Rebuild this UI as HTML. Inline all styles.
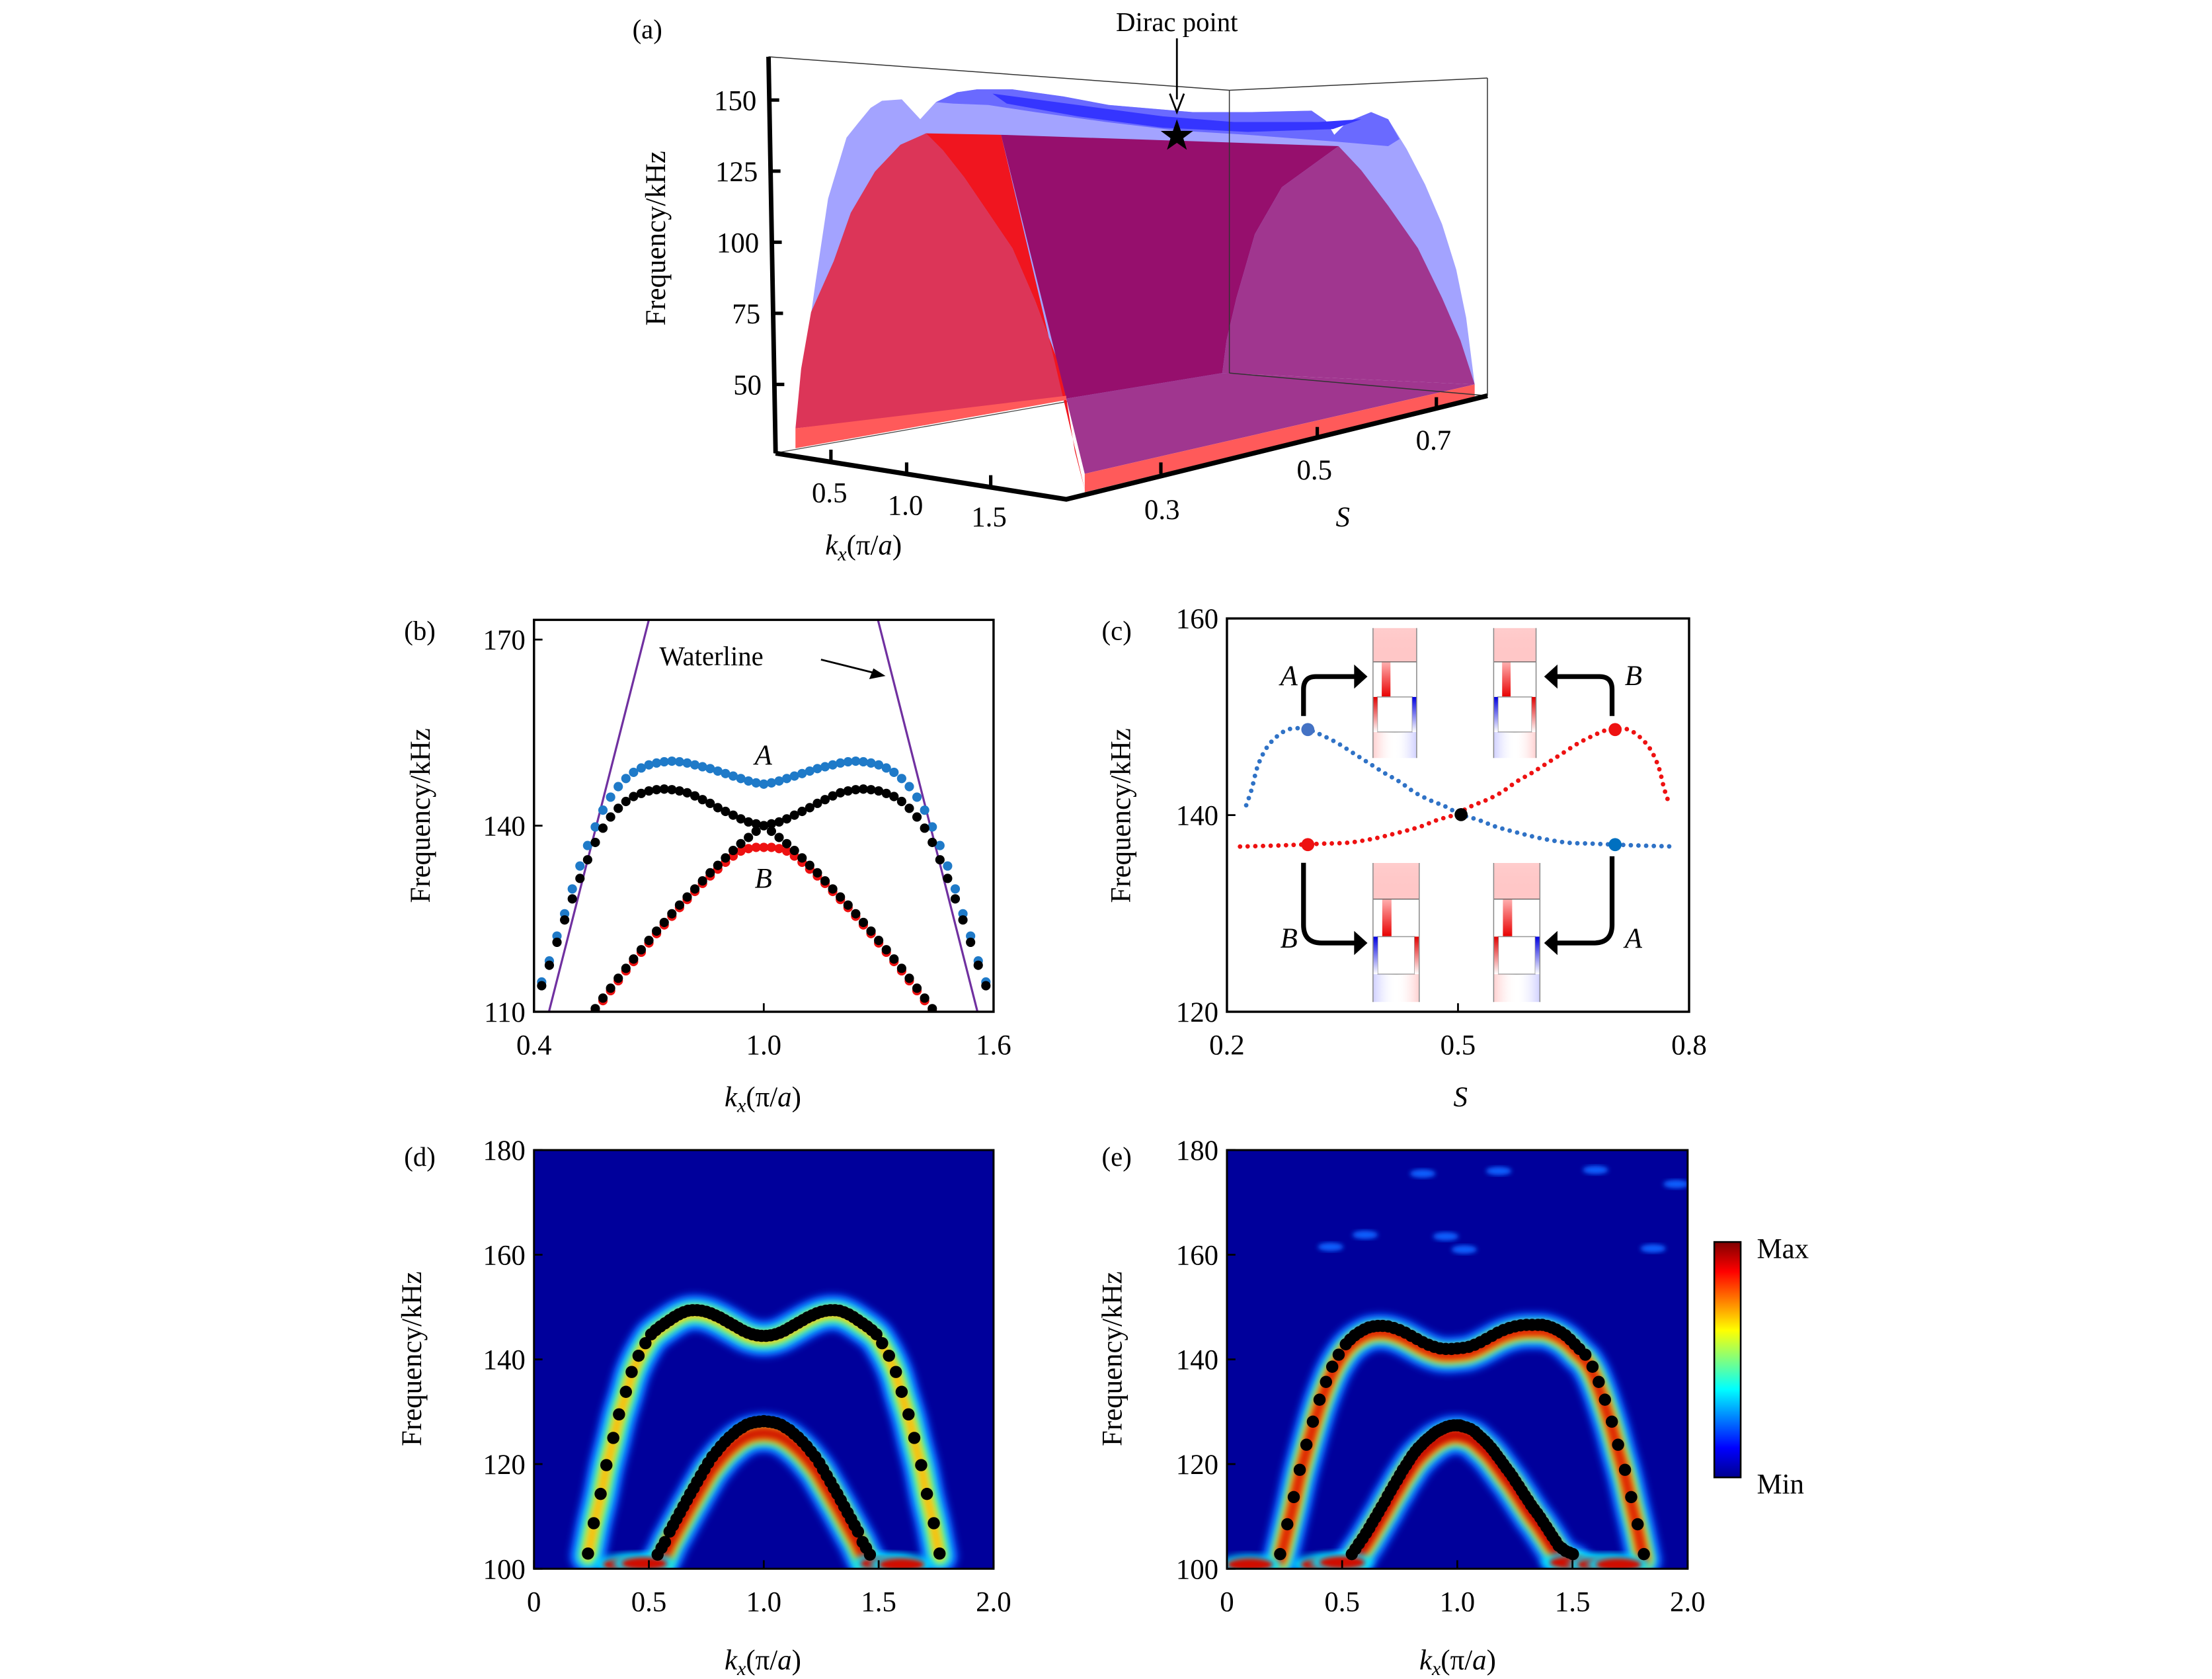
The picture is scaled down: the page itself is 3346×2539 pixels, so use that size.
<!DOCTYPE html>
<html><head><meta charset="utf-8">
<style>
html,body{margin:0;padding:0;background:#fff;}
svg{display:block;}
text{font-family:"Liberation Serif",serif;fill:#000;}
</style></head>
<body>
<svg id="fig" width="3346" height="2539" viewBox="0 0 1560 1183.7" xmlns="http://www.w3.org/2000/svg">
<defs>
  <filter id="blur3" x="-20%" y="-20%" width="140%" height="140%"><feGaussianBlur stdDeviation="2.6"/></filter>
  <filter id="blur2" x="-20%" y="-20%" width="140%" height="140%"><feGaussianBlur stdDeviation="1.6"/></filter>
  <clipPath id="clipD"><rect x="376.6" y="810.8" width="324.1" height="295.2"/></clipPath>
  <clipPath id="clipE"><rect x="865.3" y="810.8" width="324.9" height="295.2"/></clipPath>
  <clipPath id="clipB"><rect x="376.6" y="437" width="324.1" height="276.3"/></clipPath>
  <linearGradient id="jet" x1="0" y1="1" x2="0" y2="0">
    <stop offset="0" stop-color="#00008f"/><stop offset="0.125" stop-color="#0000ff"/>
    <stop offset="0.375" stop-color="#00ffff"/><stop offset="0.625" stop-color="#ffff00"/>
    <stop offset="0.875" stop-color="#ff0000"/><stop offset="1" stop-color="#800000"/>
  </linearGradient>
  <linearGradient id="topRed" x1="0" y1="0" x2="0" y2="1">
    <stop offset="0" stop-color="#ff9a9a" stop-opacity="0.5"/><stop offset="1" stop-color="#ff6060" stop-opacity="0.35"/>
  </linearGradient>
  <linearGradient id="stemRed" x1="0" y1="0" x2="0" y2="1">
    <stop offset="0" stop-color="#ffb0b0"/><stop offset="1" stop-color="#e80000"/>
  </linearGradient>
  <linearGradient id="edgeRed" x1="0" y1="0" x2="0" y2="1">
    <stop offset="0" stop-color="#e00000"/><stop offset="1" stop-color="#ffffff"/>
  </linearGradient>
  <linearGradient id="edgeBlue" x1="0" y1="0" x2="0" y2="1">
    <stop offset="0" stop-color="#0000e0"/><stop offset="1" stop-color="#ffffff"/>
  </linearGradient>
  <linearGradient id="botRB" x1="0" y1="0" x2="1" y2="0">
    <stop offset="0" stop-color="#ffb0b0" stop-opacity="0.6"/><stop offset="0.5" stop-color="#ffffff" stop-opacity="0"/><stop offset="1" stop-color="#b0b0ff" stop-opacity="0.6"/>
  </linearGradient>
  <linearGradient id="botBR" x1="0" y1="0" x2="1" y2="0">
    <stop offset="0" stop-color="#b0b0ff" stop-opacity="0.6"/><stop offset="0.5" stop-color="#ffffff" stop-opacity="0"/><stop offset="1" stop-color="#ffb0b0" stop-opacity="0.6"/>
  </linearGradient>
</defs>

<!-- ================= Panel (a) ================= -->
<g id="panelA">
  <text x="446" y="27" font-size="19">(a)</text>
  <line x1="546" y1="319.5" x2="867" y2="263" stroke="#444" stroke-width="0.6"/>
  <polygon fill="#a3a3ff" points="563,300 568,250 575,200 584,140 597,97 605,87 614,76 622,71 636,70 649,84 660,72 675,65 689,63 714,63 750,68 782,74 841,79 883,79 925,78 935,85 941,95 950,86 967,79 979,84 992,105 1005,130 1017,158 1027,190 1034,224 1040,271 867,263 752,281"/>
  <polygon fill="#6a6aff" points="660,72 675,65 689,63 714,63 750,68 782,74 841,79 883,79 925,78 935,85 941,95 950,86 967,79 979,84 987,98 979,103 944,100 880,95 830,92 780,86 730,79 697,74 672,73"/>
  <polygon fill="#3535ff" points="700,66 760,74 820,82 870,86 930,86 960,84 940,91 880,93 820,90 760,82 710,73"/>
  <polygon fill="#dc3558" points="561,302 565,260 572,220 588,184 600,150 617,121 635,102 653,94 665,106 680,125 697,150 714,175 730,212 745,252 752,281"/>
  <polygon fill="#f0151f" points="653,94 706,95 765,345 758,318 752,281 745,252 730,212 714,175 697,150 680,125 665,106"/>
  <polygon fill="#960f6d" points="706,95 944,103 904,132 885,165 872,210 865,240 862,263 752,281"/>
  <polygon fill="#a0368f" points="752,281 862,263 1040,271 765,334"/>
  <polygon fill="#a0368f" points="944,103 960,120 979,145 1000,175 1017,210 1030,240 1040,271 862,263 865,240 872,210 885,165 904,132"/>
  <polygon fill="#ff5a5a" points="561,302 752,279 752,282 561,316"/>
  <polygon fill="#ff5a5a" points="765,334 1040,271 1040,280 765,347"/>
  <g stroke="#333" stroke-width="0.7" fill="none">
    <polyline points="542,40 867,63.6 1049,55"/>
    <line x1="867" y1="63.6" x2="867" y2="263"/>
    <line x1="1049" y1="55" x2="1049" y2="279"/>
    <line x1="867" y1="263" x2="1049" y2="279"/>
  </g>
  <polyline points="542,40 547,319.5" stroke="#000" stroke-width="3.2" fill="none"/>
  <polyline points="547,319.5 752,352 1049,279" stroke="#000" stroke-width="3.4" fill="none" stroke-linejoin="miter"/>
  <g id="aTicks"></g>
  <text x="830" y="22" font-size="19" text-anchor="middle">Dirac point</text>
  <line x1="830" y1="27" x2="830" y2="70" stroke="#000" stroke-width="1.3"/>
  <polyline points="825,66 830,79 835,66" fill="none" stroke="#000" stroke-width="1.3"/>
  <polygon fill="#000" points="830,84 832.8,92.2 841.4,92.3 834.5,97.4 837,105.6 830,100.7 823,105.6 825.5,97.4 818.6,92.3 827.2,92.2"/>
  <text transform="translate(469,168) rotate(-90)" font-size="20" text-anchor="middle">Frequency/kHz</text>
  <text x="609" y="391" font-size="20" text-anchor="middle"><tspan font-style="italic">k</tspan><tspan font-style="italic" font-size="14" dy="4">x</tspan><tspan dy="-4">(π/</tspan><tspan font-style="italic">a</tspan>)</text>
  <text x="947" y="371" font-size="20" font-style="italic" text-anchor="middle">S</text>
</g>

<!-- ================= Panel (b) ================= -->
<g id="panelB">
  <text x="285" y="451" font-size="19">(b)</text>
  <g id="bMarks" clip-path="url(#clipB)"></g>
  <rect x="376.6" y="437" width="324.1" height="276.3" fill="none" stroke="#000" stroke-width="1.6"/>
  <g id="bAxes"></g>
  <text x="465" y="469" font-size="19">Waterline</text>
  <line x1="579" y1="465" x2="619" y2="475" stroke="#000" stroke-width="1.3"/>
  <polygon points="624.5,476.5 613,478.8 616,471.2" fill="#000"/>
  <text x="538.4" y="539" font-size="20" font-style="italic" text-anchor="middle">A</text>
  <text x="538.4" y="626" font-size="20" font-style="italic" text-anchor="middle">B</text>
  <text transform="translate(303,575) rotate(-90)" font-size="20" text-anchor="middle">Frequency/kHz</text>
  <text x="538" y="780" font-size="20" text-anchor="middle"><tspan font-style="italic">k</tspan><tspan font-style="italic" font-size="14" dy="4">x</tspan><tspan dy="-4">(π/</tspan><tspan font-style="italic">a</tspan>)</text>
</g>

<!-- ================= Panel (c) ================= -->
<g id="panelC">
  <text x="777" y="451" font-size="19">(c)</text>
  <g id="cInsets"></g>
  <g id="cMarks"></g>
  <rect x="865.3" y="436" width="325.9" height="277.3" fill="none" stroke="#000" stroke-width="1.6"/>
  <g id="cAxes"></g>
  <g fill="none" stroke="#000" stroke-width="3.4">
    <path d="M919.3,504.8 V486 Q919.3,477 928,477 H956"/>
    <path d="M1136.9,504.8 V486 Q1136.9,477 1128,477 H1098"/>
    <path d="M919.3,608.3 V652 Q919.3,664.8 932,664.8 H956"/>
    <path d="M1136.9,603.7 V652 Q1136.9,664.8 1124,664.8 H1098"/>
  </g>
  <g fill="#000">
    <polygon points="964.4,477 955,468.5 955,485.5"/>
    <polygon points="1089,477 1098.4,468.5 1098.4,485.5"/>
    <polygon points="964.4,664.8 955,656.3 955,673.3"/>
    <polygon points="1089,664.8 1098.4,656.3 1098.4,673.3"/>
  </g>
  <text x="909" y="483" font-size="20" font-style="italic" text-anchor="middle">A</text>
  <text x="1152" y="483" font-size="20" font-style="italic" text-anchor="middle">B</text>
  <text x="909" y="668" font-size="20" font-style="italic" text-anchor="middle">B</text>
  <text x="1152" y="668" font-size="20" font-style="italic" text-anchor="middle">A</text>
  <text transform="translate(797,575) rotate(-90)" font-size="20" text-anchor="middle">Frequency/kHz</text>
  <text x="1030" y="780" font-size="20" font-style="italic" text-anchor="middle">S</text>
</g>

<!-- ================= Panel (d) ================= -->
<g id="panelD">
  <text x="285" y="822" font-size="19">(d)</text>
  <rect x="376.6" y="810.8" width="324.1" height="295.2" fill="#00009b"/>
  <g id="dHeat" clip-path="url(#clipD)"></g>
  <g id="dMarks"></g>
  <rect x="376.6" y="810.8" width="324.1" height="295.2" fill="none" stroke="#000" stroke-width="1.4"/>
  <g id="dAxes"></g>
  <text transform="translate(297,958) rotate(-90)" font-size="20" text-anchor="middle">Frequency/kHz</text>
  <text x="538" y="1177" font-size="20" text-anchor="middle"><tspan font-style="italic">k</tspan><tspan font-style="italic" font-size="14" dy="4">x</tspan><tspan dy="-4">(π/</tspan><tspan font-style="italic">a</tspan>)</text>
</g>

<!-- ================= Panel (e) ================= -->
<g id="panelE">
  <text x="777" y="822" font-size="19">(e)</text>
  <rect x="865.3" y="810.8" width="324.9" height="295.2" fill="#00009b"/>
  <g id="eHeat" clip-path="url(#clipE)"></g>
  <g id="eMarks"></g>
  <rect x="865.3" y="810.8" width="324.9" height="295.2" fill="none" stroke="#000" stroke-width="1.4"/>
  <g id="eAxes"></g>
  <text transform="translate(791,958) rotate(-90)" font-size="20" text-anchor="middle">Frequency/kHz</text>
  <text x="1028" y="1177" font-size="20" text-anchor="middle"><tspan font-style="italic">k</tspan><tspan font-style="italic" font-size="14" dy="4">x</tspan><tspan dy="-4">(π/</tspan><tspan font-style="italic">a</tspan>)</text>
  <rect x="1209" y="875.6" width="18.6" height="166" fill="url(#jet)" stroke="#000" stroke-width="1.2"/>
  <text x="1239" y="887" font-size="20">Max</text>
  <text x="1239" y="1053" font-size="20">Min</text>
</g>
</svg>

<script>
// ---------- Panel (a) tick data ----------
const aFreqTicks = [150, 125, 100, 75, 50];
const aKxTicks = ["0.5", "1.0", "1.5"];
const aSTicks = ["0.3", "0.5", "0.7"];

// ---------- Panel (b) data ----------
const bKx = [0.42,0.44,0.46,0.48,0.50,0.52,0.54,0.56,0.58,0.60,0.62,0.64,0.66,0.68,0.70,0.72,0.74,0.76,0.78,0.80,0.82,0.84,0.86,0.88,0.90,0.92,0.94,0.96,0.98,1.00,1.02,1.04,1.06,1.08,1.10,1.12,1.14,1.16,1.18,1.20,1.22,1.24,1.26,1.28,1.30,1.32,1.34,1.36,1.38,1.40,1.42,1.44,1.46,1.48,1.50,1.52,1.54,1.56,1.58];
const bBandA = [114.8,118.2,122.2,125.8,129.8,133.5,136.8,139.8,142.5,144.6,146.3,147.6,148.6,149.3,149.8,150.1,150.3,150.4,150.3,150.1,149.8,149.5,149.2,148.8,148.4,148.0,147.6,147.2,146.9,146.7,146.9,147.2,147.6,148.0,148.4,148.8,149.2,149.5,149.8,150.1,150.3,150.4,150.3,150.1,149.8,149.3,148.6,147.6,146.3,144.6,142.5,139.8,136.8,133.5,129.8,125.8,122.2,118.2,114.8];
const bBlackUpper = [114.2,117.5,121.2,124.8,128.2,131.5,134.5,137.3,139.6,141.4,142.8,143.9,144.7,145.2,145.6,145.8,145.9,145.8,145.6,145.3,144.8,144.2,143.6,142.9,142.3,141.7,141.1,140.6,140.3,140.0,140.3,140.6,141.1,141.7,142.3,142.9,143.6,144.2,144.8,145.3,145.6,145.8,145.9,145.8,145.6,145.2,144.7,143.9,142.8,141.4,139.6,137.3,134.5,131.5,128.2,124.8,121.2,117.5,114.2];
const bKxLow = [0.56,0.58,0.60,0.62,0.64,0.66,0.68,0.70,0.72,0.74,0.76,0.78,0.80,0.82,0.84,0.86,0.88,0.90,0.92,0.94,0.96,0.98,1.00,1.02,1.04,1.06,1.08,1.10,1.12,1.14,1.16,1.18,1.20,1.22,1.24,1.26,1.28,1.30,1.32,1.34,1.36,1.38,1.40,1.42,1.44];
const bBlackLower = [110.5,112.2,113.8,115.4,117.0,118.5,120.0,121.5,123.0,124.4,125.8,127.2,128.5,129.8,131.1,132.4,133.6,134.8,136.0,137.1,138.1,139.1,140.0,139.1,138.1,137.1,136.0,134.8,133.6,132.4,131.1,129.8,128.5,127.2,125.8,124.4,123.0,121.5,120.0,118.5,117.0,115.4,113.8,112.2,110.5];
const bBandB = [110.1,111.8,113.4,115.0,116.6,118.1,119.6,121.1,122.6,124.0,125.4,126.8,128.1,129.4,130.7,131.9,133.0,134.1,135.1,135.9,136.3,136.5,136.5,136.5,136.3,135.9,135.1,134.1,133.0,131.9,130.7,129.4,128.1,126.8,125.4,124.0,122.6,121.1,119.6,118.1,116.6,115.0,113.4,111.8,110.1];
const bWaterLeftKx = [0.439, 0.700];
const bWaterRightKx = [1.558, 1.298];
const bWaterF = [110, 173.2];
const bYTicks = [110, 140, 170];
const bXTicks = [0.4, 1.0, 1.6];

// ---------- Panel (c) data ----------
const cSBlue = [0.225,0.232,0.240,0.252,0.268,0.284,0.305,0.324,0.344,0.364,0.384,0.404,0.424,0.444,0.464,0.483,0.504,0.527,0.550,0.578,0.610,0.642,0.674,0.704,0.737,0.783];
const cFBlue = [141.0,142.6,145.0,146.9,148.2,148.8,148.7,148.1,147.3,146.3,145.3,144.3,143.4,142.3,141.5,140.9,140.05,139.5,138.8,138.2,137.6,137.2,137.1,137.0,136.9,136.8];
const cSRed = [0.217,0.263,0.296,0.326,0.358,0.390,0.422,0.450,0.473,0.496,0.517,0.536,0.556,0.576,0.596,0.616,0.636,0.656,0.676,0.695,0.716,0.732,0.748,0.760,0.768,0.775];
const cFRed = [136.8,136.9,137.0,137.1,137.2,137.6,138.2,138.8,139.5,140.05,140.9,141.5,142.3,143.4,144.3,145.3,146.3,147.3,148.1,148.7,148.8,148.2,146.9,145.0,142.6,141.0];
const cKeyS = [0.305, 0.305, 0.704, 0.704, 0.504];
const cKeyF = [148.7, 137.0, 148.7, 137.0, 140.05];
const cKeyMode = ["A-left", "B-left", "B-right", "A-right", "dirac"];
const cYTicks = [120, 140, 160];
const cXTicks = [0.2, 0.5, 0.8];

// ---------- Panel (d) data ----------
const dKxUpper = [0.235,0.26,0.29,0.315,0.345,0.37,0.40,0.425,0.455,0.485,0.51,0.53,0.55,0.57,0.59,0.61,0.63,0.65,0.67,0.69,0.71,0.73,0.75,0.77,0.79,0.81,0.83,0.85,0.87,0.89,0.91,0.93,0.95,0.97,0.99,1.01,1.03,1.05,1.07,1.09,1.11,1.13,1.15,1.17,1.19,1.21,1.23,1.25,1.27,1.29,1.31,1.33,1.35,1.37,1.39,1.41,1.43,1.45,1.47,1.49,1.515,1.545,1.575,1.60,1.63,1.655,1.685,1.71,1.74,1.765];
const dFUpper = [102.9,108.7,114.3,119.8,125.0,129.5,133.8,137.6,140.7,143.1,144.8,145.6,146.3,146.9,147.5,148.1,148.6,149.0,149.3,149.4,149.4,149.3,149.1,148.8,148.4,148.0,147.5,147.0,146.5,146.0,145.5,145.1,144.8,144.6,144.5,144.5,144.6,144.8,145.1,145.5,146.0,146.5,147.0,147.5,148.0,148.4,148.8,149.1,149.3,149.4,149.4,149.3,149.0,148.6,148.1,147.5,146.9,146.3,145.6,144.8,143.1,140.7,137.6,133.8,129.5,125.0,119.8,114.3,108.7,102.9];
const dKxLower = [0.538,0.555,0.57,0.59,0.605,0.62,0.635,0.65,0.665,0.68,0.695,0.71,0.726,0.742,0.758,0.776,0.795,0.813,0.832,0.85,0.869,0.887,0.906,0.924,0.943,0.961,0.98,1.00,1.02,1.039,1.057,1.076,1.094,1.113,1.131,1.15,1.168,1.187,1.205,1.224,1.242,1.258,1.274,1.29,1.305,1.32,1.335,1.35,1.365,1.38,1.395,1.41,1.43,1.445,1.462];
const dFLower = [102.7,104.0,105.1,107.1,108.3,109.5,110.7,111.9,113.1,114.3,115.4,116.6,117.8,119.0,120.2,121.4,122.4,123.4,124.3,125.1,125.8,126.5,127.0,127.5,127.8,128.0,128.1,128.2,128.1,128.0,127.8,127.5,127.0,126.5,125.8,125.1,124.3,123.4,122.4,121.4,120.2,119.0,117.8,116.6,115.4,114.3,113.1,111.9,110.7,109.5,108.3,107.1,105.1,104.0,102.7];
const dHotKx = [0.40, 0.48, 1.52, 1.60];
const dHotF = [100.8, 101.0, 101.0, 100.8];
const dXTicks = ["0", "0.5", "1.0", "1.5", "2.0"];
const dXTickVals = [0, 0.5, 1.0, 1.5, 2.0];
const dYTicks = [100, 120, 140, 160, 180];

// ---------- Panel (e) data ----------
const eKxUpper = [0.231,0.262,0.29,0.316,0.345,0.373,0.402,0.43,0.457,0.485,0.516,0.535,0.555,0.575,0.595,0.615,0.635,0.655,0.676,0.70,0.725,0.75,0.775,0.80,0.825,0.85,0.875,0.90,0.925,0.95,0.975,1.0,1.025,1.05,1.075,1.10,1.125,1.15,1.175,1.20,1.225,1.25,1.275,1.30,1.325,1.35,1.369,1.39,1.41,1.43,1.45,1.47,1.49,1.51,1.53,1.556,1.587,1.614,1.641,1.671,1.698,1.728,1.755,1.783,1.81];
const eFUpper = [102.8,108.5,113.7,118.9,123.7,128.1,132.3,135.7,138.6,140.9,142.9,143.8,144.6,145.2,145.7,146.1,146.3,146.4,146.4,146.3,146.0,145.6,145.1,144.5,143.9,143.3,142.8,142.4,142.1,142.0,142.0,142.1,142.2,142.4,142.8,143.3,143.9,144.5,145.1,145.6,146.0,146.3,146.5,146.6,146.6,146.6,146.6,146.4,146.1,145.7,145.2,144.6,143.8,142.9,142.0,140.9,138.6,135.7,132.3,128.1,123.7,118.9,113.7,108.5,102.8];
const eKxLower = [0.542,0.558,0.573,0.589,0.604,0.618,0.631,0.645,0.658,0.671,0.685,0.698,0.711,0.724,0.738,0.751,0.764,0.778,0.791,0.804,0.818,0.831,0.845,0.858,0.871,0.885,0.898,0.911,0.924,0.938,0.953,0.969,0.985,1.0,1.011,1.022,1.04,1.058,1.076,1.09,1.105,1.12,1.133,1.147,1.16,1.173,1.187,1.20,1.213,1.227,1.24,1.253,1.267,1.28,1.293,1.307,1.32,1.333,1.347,1.36,1.373,1.387,1.40,1.413,1.427,1.44,1.455,1.47,1.486,1.502];
const eFLower = [102.8,103.8,104.8,105.8,106.8,107.8,108.8,109.8,110.8,111.8,112.8,113.9,114.9,115.9,116.9,117.9,118.9,119.8,120.7,121.6,122.4,123.1,123.7,124.3,124.8,125.3,125.8,126.2,126.5,126.8,127.1,127.3,127.4,127.4,127.4,127.2,127.0,126.7,126.2,125.6,125.0,124.4,123.8,123.1,122.4,121.6,120.8,120.0,119.2,118.4,117.6,116.7,115.8,114.9,114.0,113.1,112.2,111.4,110.6,109.8,108.9,108.0,107.1,106.2,105.3,104.4,103.9,103.4,103.1,102.8];
const eHotKx = [0.10, 0.42, 0.50, 1.50, 1.62, 1.70];
const eHotF = [100.8, 100.8, 101.2, 101.2, 100.8, 100.8];
const eNoiseKx = [0.45, 0.60, 0.95, 1.03, 1.18, 1.85, 1.95, 0.85, 1.60];
const eNoiseF = [161.5, 163.8, 163.5, 161.0, 176.0, 161.2, 173.5, 175.5, 176.2];

// ---------- helpers ----------
const NS = "http://www.w3.org/2000/svg";
function mk(tag, attrs, parent) {
  const el = document.createElementNS(NS, tag);
  for (const k in attrs) el.setAttribute(k, attrs[k]);
  parent.appendChild(el);
  return el;
}
function linScale(d0, d1, r0, r1) { return v => r0 + (v - d0) * (r1 - r0) / (d1 - d0); }
function smoothPath(pts) {
  if (pts.length < 2) return "";
  let d = "M" + pts[0][0].toFixed(2) + "," + pts[0][1].toFixed(2);
  for (let i = 0; i < pts.length - 1; i++) {
    const p0 = pts[Math.max(0, i - 1)], p1 = pts[i], p2 = pts[i + 1], p3 = pts[Math.min(pts.length - 1, i + 2)];
    const c1x = p1[0] + (p2[0] - p0[0]) / 6, c1y = p1[1] + (p2[1] - p0[1]) / 6;
    const c2x = p2[0] - (p3[0] - p1[0]) / 6, c2y = p2[1] - (p3[1] - p1[1]) / 6;
    d += " C" + c1x.toFixed(2) + "," + c1y.toFixed(2) + " " + c2x.toFixed(2) + "," + c2y.toFixed(2) + " " + p2[0].toFixed(2) + "," + p2[1].toFixed(2);
  }
  return d;
}
function axesLeftBottom(g, xs, ys, xTicks, xLabels, yTicks, box, prefix) {
  yTicks.forEach((t) => {
    const y = ys(t);
    const tk = mk("line", { x1: box.x0, y1: y, x2: box.x0 + 6, y2: y, stroke: "#000", "stroke-width": 1.3 }, g);
    
    
    const tx = mk("text", { x: box.x0 - 6, y: y + 7, "font-size": 20, "text-anchor": "end" }, g);
    tx.textContent = String(t);
    
    
  });
  xTicks.forEach((t, i) => {
    const x = xs(t);
    const tk = mk("line", { x1: x, y1: box.y1, x2: x, y2: box.y1 - 6, stroke: "#000", "stroke-width": 1.3 }, g);
    
    
    const tx = mk("text", { x: x, y: box.y1 + 30, "font-size": 20, "text-anchor": "middle" }, g);
    tx.textContent = xLabels[i];
    
    
  });
}

// ---------- Panel (a) ticks ----------
(function () {
  const g = document.getElementById("aTicks");
  const fy = linScale(50, 150, 271, 70.5);
  aFreqTicks.forEach(v => {
    const y = fy(v);
    const x = 542 + (y - 40) / 279.5 * 5;
    const tk = mk("line", { x1: x, y1: y, x2: x + 7, y2: y, stroke: "#000", "stroke-width": 2.4 }, g);
    
    
    const t = mk("text", { x: x - 9, y: y + 7, "font-size": 20, "text-anchor": "end" }, g);
    t.textContent = String(v);
    
    
  });
  const kxPos = [[586, 325, 585, 354], [639.4, 334, 638.5, 363], [698.7, 343, 697.5, 371]];
  aKxTicks.forEach((lab, i) => {
    const p = kxPos[i];
    const tk = mk("line", { x1: p[0], y1: p[1], x2: p[0], y2: p[1] - 8, stroke: "#000", "stroke-width": 2.4 }, g);
    
    
    const t = mk("text", { x: p[2], y: p[3], "font-size": 20, "text-anchor": "middle" }, g);
    t.textContent = lab;
    
    
  });
  const sPos = [[818.7, 334, 819.5, 366], [929, 309, 927, 338], [1013, 288, 1011, 317]];
  aSTicks.forEach((lab, i) => {
    const p = sPos[i];
    const tk = mk("line", { x1: p[0], y1: p[1], x2: p[0], y2: p[1] - 8, stroke: "#000", "stroke-width": 2.4 }, g);
    
    
    const t = mk("text", { x: p[2], y: p[3], "font-size": 20, "text-anchor": "middle" }, g);
    t.textContent = lab;
    
    
  });
})();

// ---------- Panel (b) ----------
(function () {
  const box = { x0: 376.6, x1: 700.7, y0: 437, y1: 713.3 };
  const xs = linScale(0.4, 1.6, box.x0, box.x1);
  const ys = linScale(110, 140, 713.3, 582.1);
  const g = document.getElementById("bMarks");
  [bWaterLeftKx, bWaterRightKx].forEach((arr, j) => {
    const l = mk("line", { x1: xs(arr[0]), y1: ys(bWaterF[0]), x2: xs(arr[1]), y2: ys(bWaterF[1]), stroke: "#7030a0", "stroke-width": 1.5 }, g);
    
    
  });
  bKx.forEach((k, i) => {
    const c = mk("circle", { cx: xs(k), cy: ys(bBandA[i]), r: 3.3, fill: "#1f7ac8" }, g);
    
    
  });
  bKxLow.forEach((k, i) => {
    const c = mk("circle", { cx: xs(k), cy: ys(bBandB[i]), r: 3.3, fill: "#ee1111" }, g);
    
    
  });
  bKx.forEach((k, i) => {
    const c = mk("circle", { cx: xs(k), cy: ys(bBlackUpper[i]), r: 3.3, fill: "#000" }, g);
    
    
  });
  bKxLow.forEach((k, i) => {
    const c = mk("circle", { cx: xs(k), cy: ys(bBlackLower[i]), r: 3.3, fill: "#000" }, g);
    
    
  });
  axesLeftBottom(document.getElementById("bAxes"), xs, ys, bXTicks, bXTicks.map(v => v.toFixed(1)), bYTicks, box, "b");
})();

// ---------- Panel (c) ----------
(function () {
  const box = { x0: 865.3, x1: 1191.2, y0: 436, y1: 713.3 };
  const xs = linScale(0.2, 0.8, box.x0, box.x1);
  const ys = linScale(120, 160, 713.3, 436);
  // insets (mode field illustrations)
  const gi = document.getElementById("cInsets");
  const insets = [[968.3, 442.8, 30.8, 91.6, "A-top", false], [1053.4, 442.8, 29.9, 91.6, "B-top", true], [968.3, 608.4, 32.6, 98, "B-bottom", true], [1053.4, 608.4, 32.6, 98, "A-bottom", false]];
  insets.forEach(p => {
    const [x, y, w, h, nm, flip] = p;
    const ig = mk("g", {}, gi);
    
    
    mk("rect", { x: x, y: y, width: w, height: h * 0.26, fill: "url(#topRed)" }, ig);
    mk("rect", { x: x + w * 0.2, y: y + h * 0.26, width: w * 0.2, height: h * 0.27, fill: "url(#stemRed)" }, ig);
    mk("rect", { x: x + w * 0.1, y: y + h * 0.53, width: w * 0.8, height: h * 0.27, fill: "#fff", stroke: "#999", "stroke-width": 0.7 }, ig);
    mk("rect", { x: x, y: y + h * 0.53, width: w * 0.1, height: h * 0.27, fill: flip ? "url(#edgeBlue)" : "url(#edgeRed)" }, ig);
    mk("rect", { x: x + w * 0.9, y: y + h * 0.53, width: w * 0.1, height: h * 0.27, fill: flip ? "url(#edgeRed)" : "url(#edgeBlue)" }, ig);
    mk("rect", { x: x, y: y + h * 0.8, width: w, height: h * 0.2, fill: flip ? "url(#botBR)" : "url(#botRB)" }, ig);
    mk("line", { x1: x, y1: y + h * 0.26, x2: x + w, y2: y + h * 0.26, stroke: "#555", "stroke-width": 0.6 }, ig);
    mk("line", { x1: x, y1: y, x2: x, y2: y + h, stroke: "#888", "stroke-width": 0.7 }, ig);
    mk("line", { x1: x + w, y1: y, x2: x + w, y2: y + h, stroke: "#888", "stroke-width": 0.7 }, ig);
  });
  const g = document.getElementById("cMarks");
  const pb = mk("path", { d: smoothPath(cSBlue.map((s, i) => [xs(s), ys(cFBlue[i])])), fill: "none", stroke: "#2f72c6", "stroke-width": 3.2, "stroke-linecap": "round", "stroke-dasharray": "0 5.4" }, g);
  
  
  const pr = mk("path", { d: smoothPath(cSRed.map((s, i) => [xs(s), ys(cFRed[i])])), fill: "none", stroke: "#ee1111", "stroke-width": 3.2, "stroke-linecap": "round", "stroke-dasharray": "0 5.4" }, g);
  
  
  const keyColors = { "A-left": "#4472c4", "B-left": "#ee1111", "B-right": "#ee1111", "A-right": "#0070c0", "dirac": "#000" };
  cKeyS.forEach((s, i) => {
    const c = mk("circle", { cx: xs(s), cy: ys(cKeyF[i]), r: 4.6, fill: keyColors[cKeyMode[i]] }, g);
    
    
  });
  axesLeftBottom(document.getElementById("cAxes"), xs, ys, cXTicks, cXTicks.map(v => v.toFixed(1)), cYTicks, box, "c");
})();

// ---------- Heatmap panels ----------
function heatPanel(prefix, box, kxU, fU, kxL, fL, hotKx, hotF, noiseKx, noiseF, style) {
  const xs = linScale(0, 2, box.x0, box.x1);
  const ys = linScale(100, 180, box.y1, box.y0);
  const gh = document.getElementById(prefix + "Heat");
  const bands = [[kxU, fU, style.upper, "upper"], [kxL, fL, style.lower, "lower"]];
  bands.forEach(b => {
    const [kx, f, layers, nm] = b;
    const pts = kx.map((k, i) => [xs(k), ys(f[i] - layers.shift)]);
    const d = smoothPath(pts);
    layers.list.forEach(L => {
      const p = mk("path", { d: d, fill: "none", stroke: L[0], "stroke-width": L[1], "stroke-linecap": "round", "stroke-linejoin": "round", filter: "url(#blur3)" }, gh);
      
      
    });
  });
  hotKx.forEach((k, i) => {
    const e1 = mk("ellipse", { cx: xs(k), cy: ys(hotF[i]), rx: 22, ry: 7, fill: "#00e0ff", filter: "url(#blur3)" }, gh);
    
    
    const e2 = mk("ellipse", { cx: xs(k), cy: ys(hotF[i]), rx: 16, ry: 4.5, fill: "#d01000", filter: "url(#blur2)" }, gh);
    
    
  });
  noiseKx.forEach((k, i) => {
    const e = mk("ellipse", { cx: xs(k), cy: ys(noiseF[i]), rx: 9, ry: 3, fill: "#1060ff", filter: "url(#blur2)" }, gh);
    
    
  });
  const gm = document.getElementById(prefix + "Marks");
  kxU.forEach((k, i) => {
    const c = mk("circle", { cx: xs(k), cy: ys(fU[i]), r: 4.3, fill: "#000" }, gm);
    
    
  });
  kxL.forEach((k, i) => {
    const c = mk("circle", { cx: xs(k), cy: ys(fL[i]), r: 4.3, fill: "#000" }, gm);
    
    
  });
  axesLeftBottom(document.getElementById(prefix + "Axes"), xs, ys, dXTickVals, dXTicks, dYTicks, box, prefix);
}
heatPanel("d", { x0: 376.6, x1: 700.7, y0: 810.8, y1: 1106 }, dKxUpper, dFUpper, dKxLower, dFLower, dHotKx, dHotF, [], [], {
  upper: { shift: 0.5, list: [["#0a50ff", 26], ["#10c8ff", 19], ["#70ff90", 12], ["#ffe010", 7], ["#ff9000", 2.5]] },
  lower: { shift: 2.2, list: [["#0a50ff", 28], ["#10c8ff", 21], ["#a0ff50", 15], ["#ff6000", 10], ["#c00000", 5]] }
});
heatPanel("e", { x0: 865.3, x1: 1190.2, y0: 810.8, y1: 1106 }, eKxUpper, eFUpper, eKxLower, eFLower, eHotKx, eHotF, eNoiseKx, eNoiseF, {
  upper: { shift: 1.2, list: [["#0a50ff", 26], ["#10c8ff", 19], ["#c0ff40", 13], ["#ff5000", 8], ["#c80000", 3.5]] },
  lower: { shift: 1.8, list: [["#0a50ff", 28], ["#10c8ff", 21], ["#c0ff40", 15], ["#ff3000", 10], ["#b00000", 5]] }
});
</script>
</body></html>
